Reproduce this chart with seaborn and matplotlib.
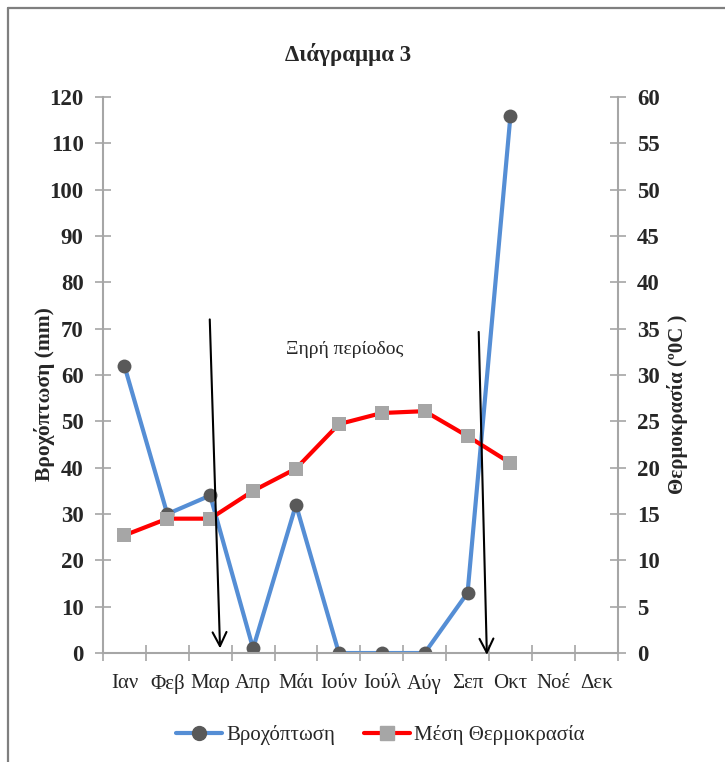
import numpy as np
import pandas as pd
import matplotlib.pyplot as plt
import seaborn as sns
from matplotlib.lines import Line2D

months = ['Ιαν', 'Φεβ', 'Μαρ', 'Απρ', 'Μάι', 'Ιούν', 'Ιούλ', 'Αύγ', 'Σεπ', 'Οκτ', 'Νοέ', 'Δεκ']
rain = [62, 30, 34, 1, 32, 0, 0, 0, 13, 116]
temp = [12.7, 14.5, 14.5, 17.5, 19.9, 24.7, 25.9, 26.1, 23.4, 20.5]

# dry period arrows (left-axis data coords): start -> end
arrow_start = [(1.99, 72), (8.26, 69.3)]
arrow_end = [(2.23, 1.0), (8.45, -0.4)]

sns.set_theme(style="white")
plt.rcParams['font.family'] = ['Liberation Serif', 'DejaVu Serif']

df = pd.DataFrame({
  "pos": np.arange(len(rain)),
  "rain": rain,
  "temp": temp,
})

blue = '#558ED5'
red = '#FF0000'
axis_gray = '#A6A6A6'

fig = plt.figure(figsize=(7.25, 7.62), dpi=100)
ax = fig.add_axes([0.142, 0.143, 0.710, 0.7297])
ax2 = ax.twinx()

sns.lineplot(data=df, x="pos", y="rain", ax=ax, color=blue, linewidth=3,
             marker='o', markersize=10, markerfacecolor='#595959',
             markeredgecolor='#595959', markeredgewidth=0)
sns.lineplot(data=df, x="pos", y="temp", ax=ax2, color=red, linewidth=3,
             marker='s', markersize=9.5, markerfacecolor='#A6A6A6',
             markeredgecolor='#A6A6A6', markeredgewidth=0)

ax.set_xlim(-0.5, len(months) - 0.5)
ax.set_ylim(0, 120)
ax2.set_ylim(0, 60)
ax.set_yticks(np.arange(0, 121, 10))
ax2.set_yticks(np.arange(0, 61, 5))

ax.set_xticks(np.arange(-0.5, len(months), 1))
ax.set_xticklabels([])
ax.set_xticks(np.arange(len(months)), minor=True)
ax.set_xticklabels(months, minor=True, fontsize=15)
ax.tick_params(axis='x', which='major', direction='inout', length=12,
               color=axis_gray, width=1.2, bottom=True)
ax.tick_params(axis='x', which='minor', length=0, pad=15, bottom=True)

for a in (ax, ax2):
  a.set_xlabel("")
  a.set_ylabel("")
  for s in a.spines.values():
    s.set_visible(False)
  a.grid(False)

ax.spines['left'].set_visible(True)
ax.spines['bottom'].set_visible(True)
ax2.spines['right'].set_visible(True)
for s in (ax.spines['left'], ax.spines['bottom'], ax2.spines['right']):
  s.set_color(axis_gray)
  s.set_linewidth(1.5)

ax.tick_params(axis='y', direction='inout', length=12, color=axis_gray,
               width=1.2, labelsize=16.5, pad=8, left=True)
ax2.tick_params(axis='y', direction='inout', length=12, color=axis_gray,
                width=1.2, labelsize=16.5, pad=8, right=True)
for lbl in ax.get_yticklabels() + ax2.get_yticklabels():
  lbl.set_fontweight('bold')

fig.text(0.062, 0.483, "Βροχόπτωση (mm)", rotation=90, ha='center', va='center',
         fontsize=15.5, fontweight='bold')
fig.text(0.934, 0.470, "Θερμοκρασία (º0C )", rotation=90, ha='center', va='center',
         fontsize=15, fontweight='bold')
fig.text(0.48, 0.928, "Διάγραμμα 3", ha='center', va='center',
         fontsize=16.5, fontweight='bold')

ax2.text(5.14, 65.6, "Ξηρή περίοδος", transform=ax.transData,
         ha='center', va='center', fontsize=14)
for (x0, y0), (x1, y1) in zip(arrow_start, arrow_end):
  ax2.annotate("", xy=(x1, y1), xytext=(x0, y0),
               xycoords=ax.transData, textcoords=ax.transData,
               arrowprops=dict(arrowstyle='->', color='black', lw=1.5,
                               mutation_scale=25, shrinkA=0, shrinkB=0),
               annotation_clip=False)

handles = [
  Line2D([], [], color=blue, lw=3, marker='o', markersize=10,
         markerfacecolor='#595959', markeredgecolor='#595959', label='Βροχόπτωση'),
  Line2D([], [], color=red, lw=3, marker='s', markersize=9.5,
         markerfacecolor='#A6A6A6', markeredgecolor='#A6A6A6', label='Μέση Θερμοκρασία'),
]
fig.legend(handles=handles, loc='center', bbox_to_anchor=(0.525, 0.035), ncol=2,
           frameon=False, prop={'family': 'Liberation Serif', 'size': 15},
           handlelength=2.2, columnspacing=1.4, handletextpad=0.2)

fig.add_artist(Line2D([0.011, 0.011], [0, 0.9895], transform=fig.transFigure,
                      color='#7F7F7F', lw=1.6))
fig.add_artist(Line2D([0.011, 1.0], [0.9895, 0.9895], transform=fig.transFigure,
                      color='#7F7F7F', lw=1.6))

fig.savefig("out.png", dpi=100)
plt.close(fig)
